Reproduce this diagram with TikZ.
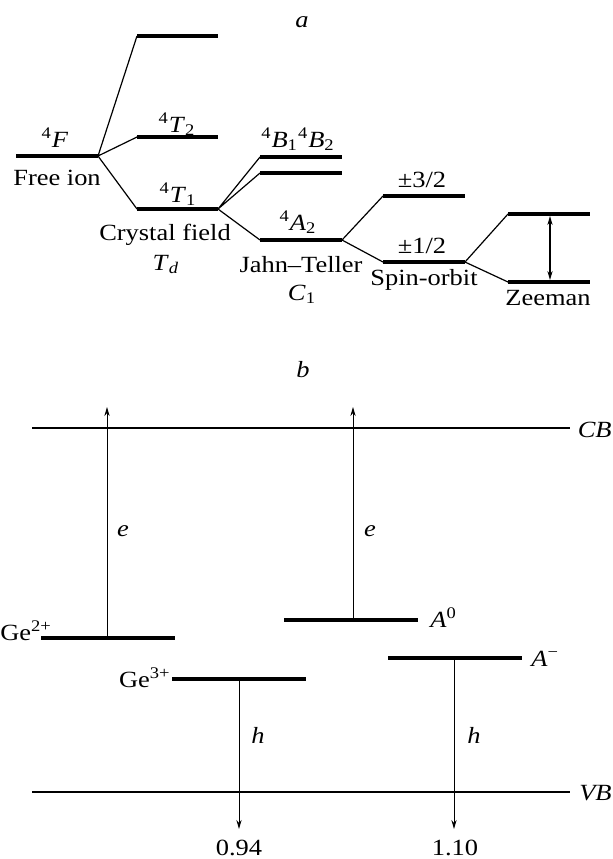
\documentclass[tikz,border=0pt]{standalone}
\usepackage{fontspec}
\setmainfont{Liberation Serif}[FakeStretch=1.14]
\usetikzlibrary{arrows.meta}
\newcommand{\su}[1]{\textsuperscript{#1}}
\newcommand{\sbs}[1]{\textsubscript{#1}}
\begin{document}
\begin{tikzpicture}[x=0.5pt,y=-0.5pt,
  level/.style={line width=2pt},
  conn/.style={line width=0.6pt},
  band/.style={line width=1pt},
  tr/.style={line width=0.5pt,-{Stealth[length=4.5pt,width=2.6pt]}},
  lbl/.style={inner sep=0pt,anchor=base,font=\fontsize{11.6}{14}\selectfont},
  every node/.style={lbl}]
\useasboundingbox (0,0) rectangle (613,859);
% ---------- part a ----------
\node (ta) at (302,27) {\textit{a}};
% free ion
\coordinate (F1) at (16,156); \coordinate (F2) at (98,156);
% crystal field
\coordinate (U1) at (137,36);  \coordinate (U2) at (218,36);
\coordinate (T21) at (137,137); \coordinate (T22) at (218,137);
\coordinate (T11) at (137,209); \coordinate (T12) at (218,209);
% Jahn-Teller
\coordinate (B11) at (260,157); \coordinate (B12) at (342,157);
\coordinate (B21) at (260,173); \coordinate (B22) at (342,173);
\coordinate (A21) at (260,240); \coordinate (A22) at (342,240);
% spin-orbit
\coordinate (P31) at (383,196); \coordinate (P32) at (465,196);
\coordinate (P11) at (383,262); \coordinate (P12) at (465,262);
% Zeeman
\coordinate (Z11) at (508,214); \coordinate (Z12) at (590,214);
\coordinate (Z21) at (508,282); \coordinate (Z22) at (590,282);

\foreach \a/\b in {F1/F2,U1/U2,T21/T22,T11/T12,B11/B12,B21/B22,A21/A22,P31/P32,P11/P12,Z11/Z12,Z21/Z22}
  \draw[level] (\a) -- (\b);
\draw[conn] (F2) -- (U1) (F2) -- (T21) (F2) -- (T11);
\draw[conn] (T12) -- (B11) (T12) -- (B21) (T12) -- (A21);
\draw[conn] (A22) -- (P31) (A22) -- (P11);
\draw[conn] (P12) -- (Z11) (P12) -- (Z21);
\coordinate (zt) at (550,216); \coordinate (zb) at (550,280);
\draw[line width=0.6pt,{Stealth[length=4.5pt,width=2.6pt]}-{Stealth[length=4.5pt,width=2.6pt]}] (zt) -- (zb);

\node (l4F) at (55,147) {\su{4}\textit{F}};
\node (lfree) at (57,185) {Free ion};
\node (lT2) at (177,132) {\su{4}\textit{T}\sbs{2}};
\node (lT1) at (178,202) {\su{4}\textit{T}\sbs{1}};
\node (lcf) at (165,240) {Crystal field};
\node (lTd) at (166,270) {\textit{T}\sbs{\textit{d}}};
\node (lB) at (298,147) {\su{4}\textit{B}\sbs{1}\su{4}\textit{B}\sbs{2}};
\node (lA2) at (298,230) {\su{4}\textit{A}\sbs{2}};
\node (ljt) at (301,272) {Jahn–Teller};
\node (lC1) at (302,300) {\textit{C}\sbs{1}};
\node (l32) at (422,187) {±3/2};
\node (l12) at (422,253) {±1/2};
\node (lso) at (424,285) {Spin-orbit};
\node (lze) at (548,305) {Zeeman};
% ---------- part b ----------
\node (tb) at (303,377) {\textit{b}};
\coordinate (CB1) at (32,428); \coordinate (CB2) at (570,428);
\coordinate (VB1) at (32,792); \coordinate (VB2) at (570,792);
\draw[band] (CB1) -- (CB2);
\draw[band] (VB1) -- (VB2);
\node[anchor=base east] (lCB) at (612,437) {\textit{CB}};
\node[anchor=base east] (lVB) at (612,800) {\textit{VB}};

\coordinate (G21) at (41,638); \coordinate (G22) at (175,638);
\coordinate (G31) at (172,679); \coordinate (G32) at (306,679);
\coordinate (A01) at (284,620); \coordinate (A02) at (418,620);
\coordinate (Am1) at (388,658); \coordinate (Am2) at (522,658);
\foreach \a/\b in {G21/G22,G31/G32,A01/A02,Am1/Am2}
  \draw[level] (\a) -- (\b);

\coordinate (e1s) at (107,638); \coordinate (e1t) at (107,407);
\coordinate (e2s) at (353,620); \coordinate (e2t) at (353,407);
\coordinate (h1s) at (239,679); \coordinate (h1t) at (239,829);
\coordinate (h2s) at (454,658); \coordinate (h2t) at (454,829);
\draw[tr] (e1s) -- (e1t);
\draw[tr] (e2s) -- (e2t);
\draw[tr] (h1s) -- (h1t);
\draw[tr] (h2s) -- (h2t);

\node (le1) at (123,536) {\textit{e}};
\node (le2) at (370,536) {\textit{e}};
\node (lh1) at (258,743) {\textit{h}};
\node (lh2) at (474,743) {\textit{h}};
\node (n094) at (239,855) {0.94};
\node (n110) at (455,855) {1.10};
\node[anchor=base west] (lG2) at (0,640) {Ge\su{2+}};
\node[anchor=base east] (lG3) at (171,687) {Ge\su{3+}};
\node[anchor=base west] (lA0) at (430,627) {\textit{A}\su{0}};
\node[anchor=base west] (lAm) at (531,666) {\textit{A}\su{−}};
\end{tikzpicture}
\end{document}
